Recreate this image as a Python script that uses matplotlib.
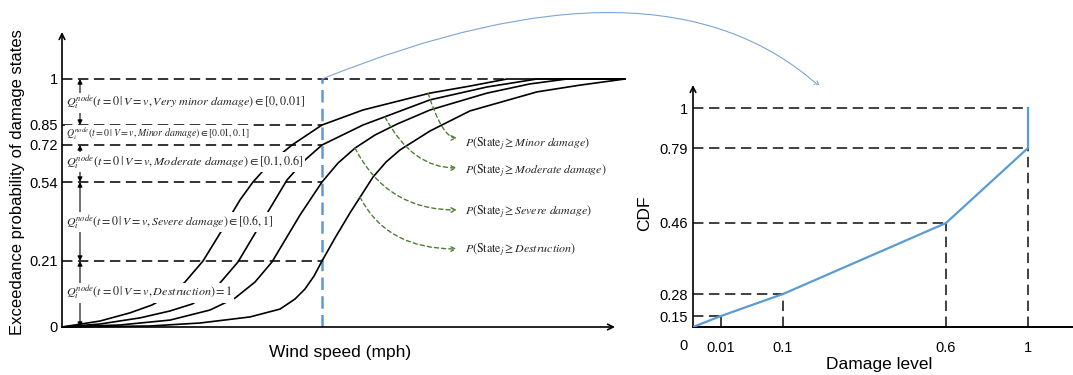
import numpy as np
import matplotlib.pyplot as plt

plt.rcParams['font.family'] = ['Liberation Sans', 'DejaVu Sans']
plt.rcParams['mathtext.fontset'] = 'stix'
plt.rcParams['lines.scale_dashes'] = False

# ---- left panel: exceedance curves (schematic, wind speed in mph) ----
levels = [0, 0.21, 0.54, 0.72, 0.85, 1]
level_labels = ['0', '0.21', '0.54', '0.72', '0.85', '1']
v_ref = 52

wind_minor = [0, 7.6, 13.6, 18, 21.6, 24.6, 28.2, 32, 35.6, 38.2, 41.6, 46, 52, 60.2, 73.6, 81.6, 89, 112.6]
p_minor = [0, 0.019, 0.045, 0.070, 0.102, 0.143, 0.21, 0.339, 0.465, 0.54, 0.632, 0.72, 0.85, 0.899, 0.954, 0.977, 1, 1]

wind_moderate = [0, 7.6, 15.6, 21.6, 26, 29, 31.6, 35.2, 39.6, 45, 48.6, 52, 60.2, 73.6, 85, 95, 112.6]
p_moderate = [0, 0.0095, 0.029, 0.051, 0.073, 0.102, 0.140, 0.207, 0.360, 0.550, 0.647, 0.72, 0.85, 0.932, 0.974, 1, 1]

wind_severe = [0, 11.6, 21.6, 29.6, 34.6, 38.6, 42, 47.6, 52, 55.2, 58.6, 62.6, 67, 73.6, 85, 93.6, 101, 112.6]
p_severe = [0, 0.0064, 0.022, 0.054, 0.092, 0.143, 0.207, 0.402, 0.54, 0.632, 0.705, 0.785, 0.853, 0.899, 0.954, 0.984, 1, 1]

wind_destr = [0, 17.6, 27.6, 37.6, 43.6, 46.6, 48.6, 50.4, 52, 54.6, 57.6, 62.2, 64.8, 67.6, 73.6, 81.6, 95, 103.6, 112.6]
p_destr = [0, 0.0032, 0.0127, 0.032, 0.057, 0.089, 0.121, 0.162, 0.21, 0.306, 0.411, 0.564, 0.637, 0.696, 0.811, 0.896, 0.958, 0.980, 1]

q_labels = [
    r"$Q_i^{node}\left(t=0\,|\,V=v,\mathit{Very\ minor\ damage}\right)\in[0,0.01]$",
    r"$Q_i^{node}\left(t=0\,|\,V=v,\mathit{Minor\ damage}\right)\in[0.01,0.1]$",
    r"$Q_i^{node}\left(t=0\,|\,V=v,\mathit{Moderate\ damage}\right)\in[0.1,0.6]$",
    r"$Q_i^{node}\left(t=0\,|\,V=v,\mathit{Severe\ damage}\right)\in[0.6,1]$",
    r"$Q_i^{node}\left(t=0\,|\,V=v,\mathit{Destruction}\right)=1$",
]
p_labels = [
    r"$P(\mathrm{State}_j\geq\mathit{Minor\ damage})$",
    r"$P(\mathrm{State}_j\geq\mathit{Moderate\ damage})$",
    r"$P(\mathrm{State}_j\geq\mathit{Severe\ damage})$",
    r"$P(\mathrm{State}_j\geq\mathit{Destruction})$",
]

# ---- right panel: CDF of damage level ----
damage = [0, 0.01, 0.1, 0.6, 1, 1]
cdf = [0, 0.15, 0.28, 0.46, 0.79, 1]


def knot_scale(vals, pos):
    # piecewise-linear schematic axis, linear beyond the ends
    vals = np.asarray(vals, float)
    pos = np.asarray(pos, float)

    def make(a, b):
        s0 = (b[1] - b[0]) / (a[1] - a[0])
        s1 = (b[-1] - b[-2]) / (a[-1] - a[-2])

        def f(v):
            v = np.asarray(v, float)
            out = np.interp(v, a, b)
            out = np.where(v < a[0], b[0] + (v - a[0]) * s0, out)
            out = np.where(v > a[-1], b[-1] + (v - a[-1]) * s1, out)
            return out
        return f
    return make(vals, pos), make(pos, vals)


W, H = 1073, 375
fig = plt.figure(figsize=(W / 100, H / 100), dpi=100)

dash_k = dict(color='#333333', lw=1.4, dashes=(7.5, 4))
blue = '#5B9BD5'
green = '#4E7D35'

# ================= left =================
axL = fig.add_axes([62 / W, 48 / H, (625 - 62) / W, (327 - 32) / H])
fL, gL = knot_scale(levels, [0, 66, 145, 182, 202, 248])
axL.set_yscale('function', functions=(fL, gL))
axL.set_xlim(0, 112.6)
axL.set_ylim(0, float(gL(295)))
for s in axL.spines.values():
    s.set_visible(False)
axL.set_xticks([])
axL.set_yticks(levels, level_labels)
axL.tick_params(axis='y', length=0, pad=3, labelsize=10.5)

axL.plot([0, 89], [1, 1], **dash_k)
for lv in levels[1:-1]:
    axL.plot([0, v_ref], [lv, lv], **dash_k)
axL.plot([v_ref, v_ref], [0, 1], color=blue, lw=1.8, dashes=(9, 4.5))

for w, p in [(wind_minor, p_minor), (wind_moderate, p_moderate),
             (wind_severe, p_severe), (wind_destr, p_destr)]:
    axL.plot(w, p, color='black', lw=1.2, clip_on=False)

# dimension arrows at the left
for top, bot in [(1, 0.85), (0.72, 0.54), (0.54, 0.21), (0.21, 0)]:
    axL.annotate('', xy=(3.6, bot), xytext=(3.6, top),
                 arrowprops=dict(arrowstyle='<|-|>', color='black', lw=0.8,
                                 mutation_scale=7, shrinkA=0, shrinkB=0))

q_pos = [0.922, 0.7915, 0.637, 0.373, 0.108]
q_size = [8.7, 7.1, 8.8, 8.6, 8.7]
for txt, yp, fs in zip(q_labels, q_pos, q_size):
    axL.text(0.8, yp, txt, fontsize=fs, ha='left', va='center', color='#222222',
             bbox=dict(facecolor='white', edgecolor='none', pad=0.6), zorder=5)

arr_start = [(73.2, 0.954), (64.6, 0.876), (58.6, 0.705), (59.6, 0.477)]
arr_tip = [(79, 0.766), (79, 0.608), (79, 0.423), (79, 0.26)]
arr_ang = [-72, -62, -63, -63]
txt_y = [0.733, 0.594, 0.415, 0.26]
for st, tp, ang, ty, lab in zip(arr_start, arr_tip, arr_ang, txt_y, p_labels):
    axL.annotate('', xy=tp, xytext=st,
                 arrowprops=dict(arrowstyle='->', color=green, lw=1.0,
                                 linestyle=(0, (3, 2.2)), mutation_scale=8,
                                 shrinkA=0, shrinkB=0,
                                 connectionstyle=f'angle3,angleA={ang},angleB=0'))
    axL.text(80.6, ty, lab, fontsize=8.6, ha='left', va='center', color='#222222')

# axis arrows
axL.annotate('', xy=(0, 1), xycoords='axes fraction', xytext=(0, 0),
             arrowprops=dict(arrowstyle='->', color='black', lw=1.2,
                             mutation_scale=10, shrinkA=0, shrinkB=0))
axL.annotate('', xy=(110.6, 0), xytext=(0, 0),
             arrowprops=dict(arrowstyle='->', color='black', lw=1.2,
                             mutation_scale=10, shrinkA=0, shrinkB=0))

fig.text(18 / W, 1 - 182 / H, 'Exceedance probability of damage states',
         rotation=90, ha='center', va='center', fontsize=12)
fig.text(340 / W, 1 - 352 / H, 'Wind speed (mph)', ha='center', va='center', fontsize=12.5)

# ================= right =================
axR = fig.add_axes([693 / W, 48 / H, (W - 693) / W, (327 - 85) / H])
fx, gx = knot_scale([0, 0.01, 0.1, 0.6, 1], [0, 28, 90, 253, 335])
fy, gy = knot_scale([0, 0.15, 0.28, 0.46, 0.79, 1], [0, 11, 33, 104, 179, 219])
axR.set_xscale('function', functions=(fx, gx))
axR.set_yscale('function', functions=(fy, gy))
axR.set_xlim(0, float(gx(380)))
axR.set_ylim(0, float(gy(242)))
for s in axR.spines.values():
    s.set_visible(False)
axR.set_xticks(damage[1:5], ['0.01', '0.1', '0.6', '1'])
axR.set_yticks(cdf[1:], ['0.15', '0.28', '0.46', '0.79', '1'])
axR.tick_params(axis='x', length=0, pad=10, labelsize=10.5)
axR.tick_params(axis='y', length=0, pad=3.5, labelsize=10.5)
axR.annotate('0', xy=(0, 0), xytext=(-10, -19), textcoords='offset pixels',
             ha='center', va='center', fontsize=10.5)

dash_r = dict(color='#404040', lw=1.4, dashes=(7.5, 4))
for x, y in zip(damage[1:], cdf[1:]):
    axR.plot([0, x], [y, y], **dash_r)
for x, y in zip(damage[1:5], cdf[1:5]):
    axR.plot([x, x], [0, y], **dash_r)
axR.plot(damage, cdf, color=blue, lw=1.6, zorder=4)

axR.annotate('', xy=(0, 1), xycoords='axes fraction', xytext=(0, 0),
             arrowprops=dict(arrowstyle='->', color='black', lw=1.2,
                             mutation_scale=10, shrinkA=0, shrinkB=0))
axR.plot([0, 1], [0, 0], transform=axR.transAxes, color='black', lw=1.4, clip_on=False)

fig.text(645 / W, 1 - 213 / H, 'CDF', rotation=90, ha='center', va='center', fontsize=12.5)
fig.text(879 / W, 1 - 365 / H, 'Damage level', ha='center', va='center', fontsize=12.5)

# link arrow from left panel to right panel
axL.annotate('', xy=(820, H - 87), xycoords='figure pixels',
             xytext=(322, H - 79), textcoords='figure pixels',
             arrowprops=dict(arrowstyle='->', color='#7DA5D2', lw=0.8,
                             mutation_scale=9, shrinkA=0, shrinkB=0,
                             connectionstyle='angle3,angleA=22,angleB=-42'),
             annotation_clip=False)

fig.savefig('out.png', dpi=100)
